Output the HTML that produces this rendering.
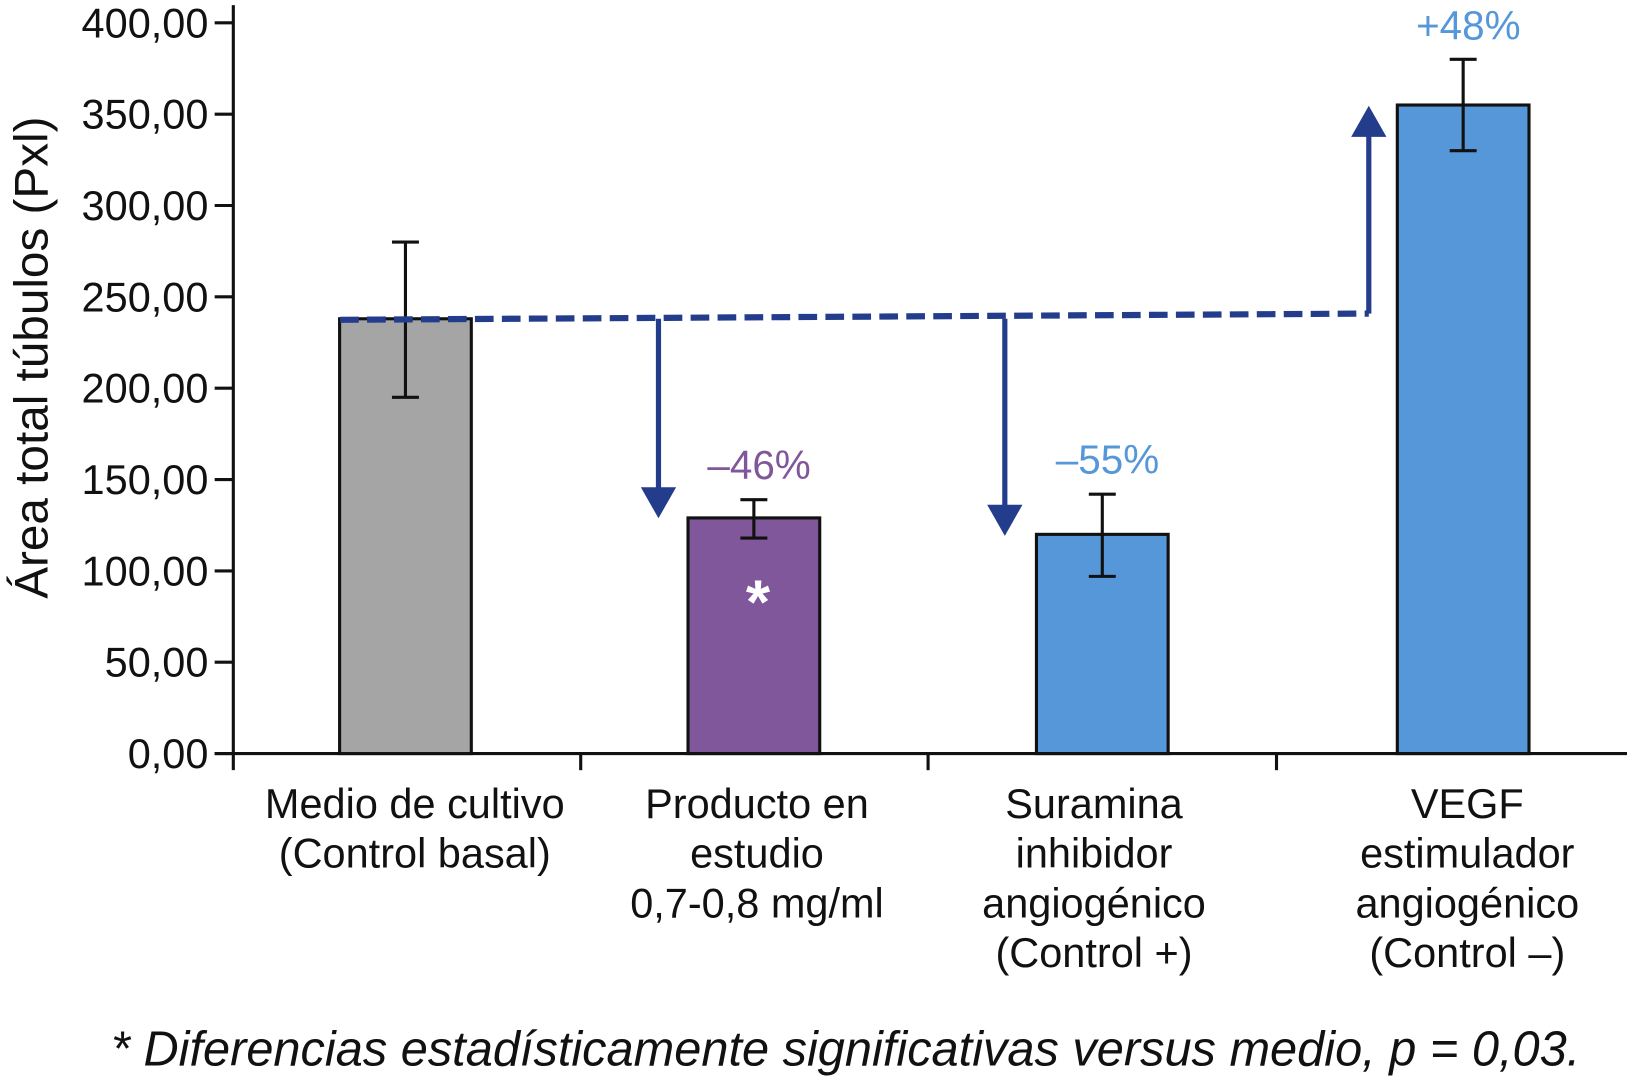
<!DOCTYPE html>
<html><head><meta charset="utf-8"><style>
html,body{margin:0;padding:0;background:#fff;}
svg{display:block;font-family:"Liberation Sans",sans-serif;}
</style></head><body>
<svg id="chart" width="1627" height="1077" viewBox="0 0 1569 1039" preserveAspectRatio="none" xmlns="http://www.w3.org/2000/svg">
<g id="axes"></g>
<g id="bars"></g>
<g id="annot"></g>
<text transform="translate(46,345) rotate(-90)" text-anchor="middle" font-size="46" fill="#111">Área total túbulos (Pxl)</text>
<text x="107" y="1028" font-size="47" font-style="italic" fill="#111">* Diferencias estadísticamente significativas versus medio, p = 0,03.</text>
</svg>
<script>
const categories = [["Medio de cultivo","(Control basal)"],["Producto en","estudio","0,7-0,8 mg/ml"],["Suramina","inhibidor","angiogénico","(Control +)"],["VEGF","estimulador","angiogénico","(Control –)"]];
const values = [238, 129, 120, 355];
const errLow = [195, 118, 97, 330];
const errHigh = [280, 139, 142, 380];
const barColors = ["#a5a5a5","#7f579a","#5597d8","#5597d8"];
const yTicks = [0,50,100,150,200,250,300,350,400];
const yTickLabels = ["0,00","50,00","100,00","150,00","200,00","250,00","300,00","350,00","400,00"];
const pctLabels = ["","–46%","–55%","+48%"];
const pctColors = ["","#7f579a","#5597d8","#5597d8"];
const baselineValue = 238;

const NS="http://www.w3.org/2000/svg";
const X0=225, Y0=727, YTOP=22, VMAX=400;
const y = v => Y0 - (v/VMAX)*(Y0-YTOP);
const barCenters = [391, 727, 1063, 1411];
const labelCenters = [400, 730, 1055, 1415];
const xc = i => barCenters[i];
const BW=127;
function el(parent, tag, attrs, text){const e=document.createElementNS(NS,tag);for(const k in attrs)e.setAttribute(k,attrs[k]);if(text!==undefined)e.textContent=text;parent.appendChild(e);return e;}
const axes=document.getElementById('axes'), bars=document.getElementById('bars'), annot=document.getElementById('annot');

let a=el(axes,'line',{x1:X0,y1:5,x2:X0,y2:743,stroke:'#111','stroke-width':3});


a=el(axes,'line',{x1:X0-18,y1:Y0,x2:1569,y2:Y0,stroke:'#111','stroke-width':3});


[560,895,1231].forEach(x=>{const t=el(axes,'line',{x1:x,y1:Y0,x2:x,y2:743,stroke:'#111','stroke-width':3});

});
yTicks.forEach((v,i)=>{
  const t=el(axes,'line',{x1:X0-18,y1:y(v),x2:X0,y2:y(v),stroke:'#111','stroke-width':3});
  
  
  const l=el(axes,'text',{x:201,y:y(v)+14,'text-anchor':'end','font-size':40,fill:'#111'},yTickLabels[i]);
  
  
});
categories.forEach((lines,i)=>{
  lines.forEach((s,j)=>{
    const t=el(axes,'text',{x:labelCenters[i],y:789+j*48,'text-anchor':'middle','font-size':40,fill:'#111'},s);
    
    
  });
});
values.forEach((v,i)=>{
  const r=el(bars,'rect',{x:xc(i)-BW/2,y:y(v),width:BW,height:Y0-y(v),fill:barColors[i],stroke:'#111','stroke-width':3});
  
  
  const g=el(bars,'g',{stroke:'#111','stroke-width':3});
  
  
  el(g,'line',{x1:xc(i),y1:y(errLow[i]),x2:xc(i),y2:y(errHigh[i])});
  el(g,'line',{x1:xc(i)-13,y1:y(errLow[i]),x2:xc(i)+13,y2:y(errLow[i])});
  el(g,'line',{x1:xc(i)-13,y1:y(errHigh[i]),x2:xc(i)+13,y2:y(errHigh[i])});
  if(pctLabels[i]){
    const p=el(annot,'text',{x:xc(i)+5,y:(i===3?38:y(errHigh[i])-20),'text-anchor':'middle','font-size':39,fill:pctColors[i]},pctLabels[i]);
    
    
  }
});
const star=el(annot,'text',{x:xc(1)+4,y:y(values[1])+102,'text-anchor':'middle','font-size':60,'font-weight':'bold',fill:'#fff'},'*');


const C='#243c8c';
const by=y(baselineValue);
const d=el(annot,'line',{x1:328,y1:by+1,x2:1320,y2:by-5,stroke:C,'stroke-width':6,'stroke-dasharray':'18 8'});


function arrow(x,y1,y2,name){
  const g=el(annot,'g',{});
  
  
  const dir = y2>y1?1:-1;
  el(g,'line',{x1:x,y1:y1,x2:x,y2:y2-dir*28,stroke:C,'stroke-width':5});
  el(g,'polygon',{points:`${x-17},${y2-dir*30} ${x+17},${y2-dir*30} ${x},${y2}`,fill:C});
}
arrow(635,by,500,'arrow-down-producto');
arrow(969,by,517,'arrow-down-suramina');
arrow(1320,by-5,102,'arrow-up-vegf');
</script>
</body></html>
